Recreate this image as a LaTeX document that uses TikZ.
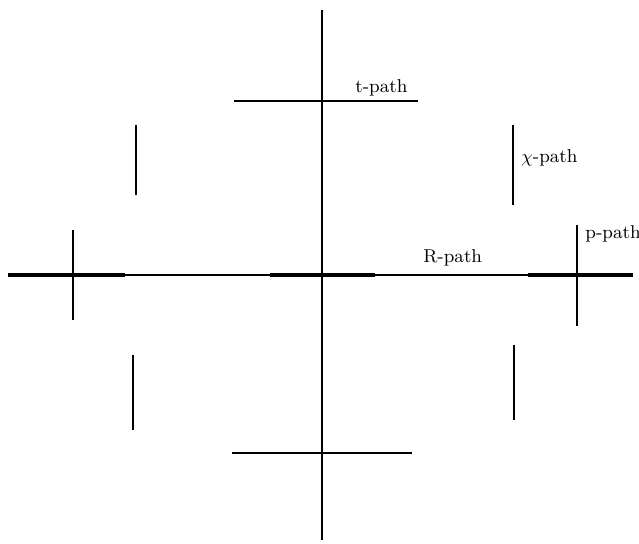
\documentclass[tikz,border=0pt]{standalone}
\begin{document}
\begin{tikzpicture}[x=0.5pt,y=-0.5pt,
  thin line/.style={line width=1pt},
  thick seg/.style={line width=2.4pt},
  lbl/.style={font=\fontsize{9.3}{11}\selectfont, inner sep=0pt}]
\useasboundingbox (0,0) rectangle (639,544);
% main axes
\coordinate (vt) at (322,10); \coordinate (vb) at (322,540);
\coordinate (hl) at (8,275);  \coordinate (hr) at (633,275);
\draw[thin line] (vt) -- (vb);
\draw[thin line] (hl) -- (hr);
% thick segments on R-path
\coordinate (tl1) at (8,275); \coordinate (tl2) at (75,275);
\coordinate (tl3) at (125,275);
\coordinate (tc1) at (270,275); \coordinate (tc2) at (375,275);
\coordinate (tr1) at (528,275); \coordinate (tr2) at (633,275);
\draw[thick seg] (tl1) -- (tl2);
\draw[line width=1.6pt] (tl2) -- (tl3);
\draw[thick seg] (tc1) -- (tc2);
\draw[thick seg] (tr1) -- (tr2);
% p-path ticks
\coordinate (pl1) at (73,230); \coordinate (pl2) at (73,320);
\coordinate (pr1) at (577,225); \coordinate (pr2) at (577,326);
\draw[thin line] (pl1) -- (pl2);
\draw[thin line] (pr1) -- (pr2);
% t-path bars
\coordinate (tt1) at (234,101); \coordinate (tt2) at (418,101);
\coordinate (tb1) at (232,453); \coordinate (tb2) at (412,453);
\draw[thin line] (tt1) -- (tt2);
\draw[thin line] (tb1) -- (tb2);
% chi-path bars
\coordinate (c1a) at (136,125); \coordinate (c1b) at (136,195);
\coordinate (c2a) at (513,125); \coordinate (c2b) at (513,205);
\coordinate (c3a) at (133,355); \coordinate (c3b) at (133,430);
\coordinate (c4a) at (514,345); \coordinate (c4b) at (514,420);
\draw[thin line] (c1a) -- (c1b);
\draw[thin line] (c2a) -- (c2b);
\draw[thin line] (c3a) -- (c3b);
\draw[thin line] (c4a) -- (c4b);
% labels
\node[lbl, anchor=west] (tlab) at (355,88) {t-path};
\node[lbl, anchor=west] (clab) at (521,158) {$\chi$-path};
\node[lbl, anchor=west] (plab) at (585,234) {p-path};
\node[lbl, anchor=west] (rlab) at (423,258) {R-path};
\end{tikzpicture}
\end{document}
